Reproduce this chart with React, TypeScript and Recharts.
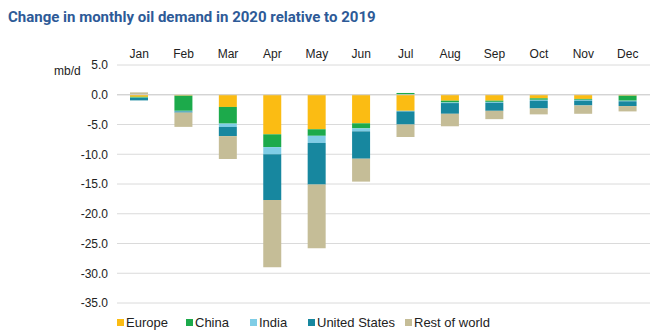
import React from 'react';
import { BarChart, Bar, XAxis, YAxis, CartesianGrid, ReferenceLine } from 'recharts';

const months = ['Jan', 'Feb', 'Mar', 'Apr', 'May', 'Jun', 'Jul', 'Aug', 'Sep', 'Oct', 'Nov', 'Dec'];
const europe = [-0.35, -0.15, -2.05, -6.65, -5.8, -4.8, -2.7, -1.0, -1.0, -0.6, -0.7, -0.15];
const china = [-0.15, -2.55, -2.8, -2.15, -1.1, -0.85, 0.3, -0.3, -0.2, -0.25, -0.15, -0.85];
const india = [-0.05, -0.1, -0.55, -1.2, -1.2, -0.5, -0.1, -0.1, -0.15, -0.15, -0.15, -0.1];
const unitedStates = [-0.4, -0.2, -1.55, -7.7, -7.0, -4.6, -2.2, -1.8, -1.35, -1.3, -0.8, -0.8];
const restOfWorld = [0.4, -2.4, -3.85, -11.3, -10.7, -3.85, -2.1, -2.1, -1.4, -1.0, -1.4, -0.9];
const yTicks = [5, 0, -5, -10, -15, -20, -25, -30, -35];

const series = [
  { key: 'europe', name: 'Europe', color: '#FBBC13' },
  { key: 'china', name: 'China', color: '#1CAA4B' },
  { key: 'india', name: 'India', color: '#7FCDE6' },
  { key: 'us', name: 'United States', color: '#17879F' },
  { key: 'row', name: 'Rest of world', color: '#C5BD97' },
];

const data = months.map((m, i) => ({
  month: m,
  europe: europe[i],
  china: china[i],
  india: india[i],
  us: unitedStates[i],
  row: restOfWorld[i],
}));

const legendLefts = [117, 186, 250, 308, 405];
const font = '"Liberation Sans", Arial, sans-serif';

export default function App() {
  return (
    <div style={{ position: 'absolute', left: 0, top: 0, width: 650, height: 330, background: '#fff', overflow: 'hidden' }}>
      <div
        style={{
          position: 'absolute',
          left: 8,
          top: 8,
          fontFamily: 'Roboto, "Open Sans", sans-serif',
          fontWeight: 700,
          fontSize: 15,
          color: '#2D5A97',
          whiteSpace: 'nowrap',
        }}
      >
        Change in monthly oil demand in 2020 relative to 2019
      </div>
      <div style={{ position: 'absolute', left: 54, top: 64, fontFamily: font, fontSize: 12, color: '#222' }}>
        mb/d
      </div>
      <div style={{ position: 'absolute', left: 0, top: 0 }}>
        <BarChart
          width={650}
          height={330}
          data={data}
          stackOffset="sign"
          margin={{ top: 45, right: 0, bottom: 27, left: 0 }}
          barSize={18}
        >
          <CartesianGrid horizontal vertical={false} stroke="#DADADA" />
          <XAxis
            dataKey="month"
            orientation="top"
            axisLine={false}
            tickLine={false}
            height={20}
            tick={{ fontSize: 12, fill: '#222', fontFamily: font }}
            tickMargin={1}
          />
          <YAxis
            domain={[-35, 5]}
            ticks={yTicks}
            width={117}
            axisLine={false}
            tickLine={false}
            tickMargin={3}
            tickFormatter={(v: number) => v.toFixed(1)}
            tick={{ fontSize: 12, fill: '#222', fontFamily: font }}
          />
          <ReferenceLine y={0} stroke="#CFCFCF" />
          {series.map((s) => (
            <Bar key={s.key} dataKey={s.key} name={s.name} stackId="a" fill={s.color} isAnimationActive={false} />
          ))}
        </BarChart>
      </div>
      {series.map((s, i) => (
        <div
          key={s.key}
          style={{
            position: 'absolute',
            left: legendLefts[i],
            top: 315,
            display: 'flex',
            alignItems: 'center',
            fontFamily: font,
            fontSize: 13,
            color: '#222',
            whiteSpace: 'nowrap',
          }}
        >
          <span style={{ display: 'inline-block', width: 7, height: 7, background: s.color, marginRight: 2 }} />
          {s.name}
        </div>
      ))}
    </div>
  );
}
